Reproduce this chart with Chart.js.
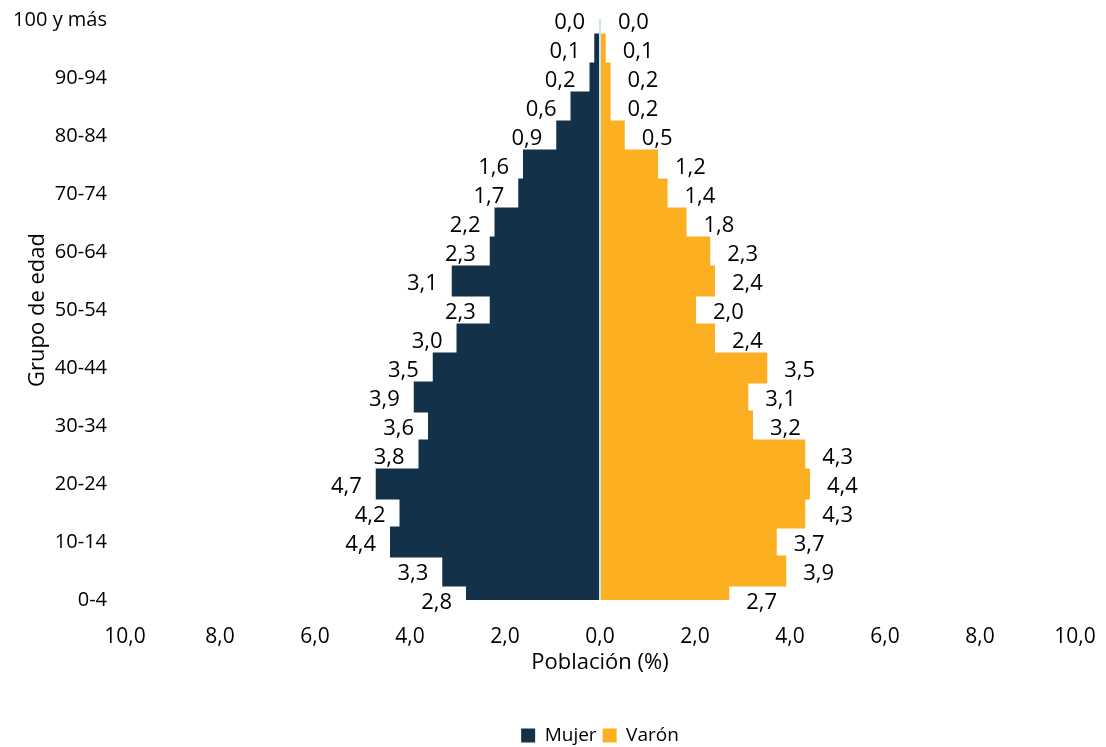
<!DOCTYPE html>
<html>
<head>
<meta charset="utf-8">
<script src="https://cdn.jsdelivr.net/npm/chart.js@4"></script>
<style>
  html, body { margin: 0; padding: 0; background: #fff; }
  #wrap { width: 1106px; height: 747px; }
</style>
</head>
<body>
<div id="wrap"><canvas id="pyramid"></canvas></div>
<script>
'use strict';

// age groups, bottom to top
const ageGroups = ['0-4', '5-9', '10-14', '15-19', '20-24', '25-29', '30-34', '35-39',
    '40-44', '45-49', '50-54', '55-59', '60-64', '65-69', '70-74', '75-79',
    '80-84', '85-89', '90-94', '95-99', '100 y más'];

const mujer = [2.8, 3.3, 4.4, 4.2, 4.7, 3.8, 3.6, 3.9, 3.5, 3.0, 2.3, 3.1, 2.3,
    2.2, 1.7, 1.6, 0.9, 0.6, 0.2, 0.1, 0.0];
const varon = [2.7, 3.9, 3.7, 4.3, 4.4, 4.3, 3.2, 3.1, 3.5, 2.4, 2.0, 2.4, 2.3,
    1.8, 1.4, 1.2, 0.5, 0.2, 0.2, 0.1, 0.0];

const xTicks = [-10, -8, -6, -4, -2, 0, 2, 4, 6, 8, 10];

const FONT = "'Open Sans', sans-serif";
const fmt = v => Math.abs(v).toFixed(1).replace('.', ',');

// no extra room for overhanging tick labels, layout padding does it
function noPadding(scale) {
    scale.paddingTop = 0;
    scale.paddingBottom = 0;
    scale.paddingLeft = 0;
    scale.paddingRight = 0;
}

// value labels beside each bar + light line at zero
const barLabels = {
    id: 'barLabels',
    afterDatasetsDraw(chart) {
        const ctx = chart.ctx;
        const area = chart.chartArea;
        const x0 = chart.scales.x.getPixelForValue(0);
        ctx.save();
        ctx.strokeStyle = '#cfe2f0';
        ctx.lineWidth = 2;
        ctx.beginPath();
        ctx.moveTo(x0, area.top - 1);
        ctx.lineTo(x0, area.bottom);
        ctx.stroke();

        ctx.font = '22px ' + FONT;
        ctx.fillStyle = '#000';
        ctx.textBaseline = 'middle';
        chart.data.datasets.forEach((ds, i) => {
            const meta = chart.getDatasetMeta(i);
            meta.data.forEach((bar, j) => {
                const v = ds.data[j];
                // first dataset (Mujer) goes to the left
                if (i === 0) {
                    ctx.textAlign = 'right';
                    ctx.fillText(fmt(v), bar.x - 15, bar.y + 3);
                } else {
                    ctx.textAlign = 'left';
                    ctx.fillText(fmt(v), bar.x + 18, bar.y + 3);
                }
            });
        });
        ctx.restore();
    }
};

const pyramidData = {
    labels: ageGroups,
    datasets: [
        {
            label: 'Mujer',
            data: mujer.map(v => -v),
            backgroundColor: '#133249',
        },
        {
            label: 'Varón',
            data: varon,
            backgroundColor: '#fcaf21',
        }
    ]
};

const pyramidConfig = {
    type: 'bar',
    data: pyramidData,
    plugins: [barLabels],
    options: {
        indexAxis: 'y',
        maintainAspectRatio: false,
        animation: false,
        barPercentage: 1,
        categoryPercentage: 1,
        inflateAmount: 1,
        layout: {
            padding: { top: 20, right: 31, left: 0, bottom: -8 }
        },
        scales: {
            x: {
                stacked: true,
                min: -10,
                max: 10,
                afterBuildTicks: scale => {
                    scale.ticks = xTicks.map(v => ({ value: v }));
                },
                afterFit: scale => {
                    noPadding(scale);
                    scale.height = 120;
                },
                border: { display: false },
                grid: {
                    display: false,
                    drawTicks: false
                },
                ticks: {
                    padding: 24,
                    color: '#000',
                    font: { family: FONT, size: 21 },
                    callback: value => fmt(value)
                },
                title: {
                    display: true,
                    text: 'Población (%)',
                    color: '#000',
                    font: { family: FONT, size: 22 },
                    padding: { top: 4, bottom: 44 }
                }
            },
            y: {
                stacked: true,
                reverse: true,
                offset: false,
                afterFit: scale => {
                    noPadding(scale);
                    scale.width = 125;
                },
                border: { display: false },
                grid: {
                    display: false,
                    drawTicks: false
                },
                ticks: {
                    autoSkip: false,
                    padding: 18,
                    color: '#000',
                    font: { family: FONT, size: 20 },
                    callback: (value, index) => index % 2 === 0 ? ageGroups[index] : ''
                },
                title: {
                    display: true,
                    text: 'Grupo de edad',
                    color: '#000',
                    font: { family: FONT, size: 22 },
                    padding: { top: 25, bottom: 0 }
                }
            }
        },
        plugins: {
            legend: {
                position: 'bottom',
                fullSize: false,
                labels: {
                    boxWidth: 14,
                    boxHeight: 14,
                    padding: 6,
                    color: '#000',
                    font: { family: FONT, size: 19 }
                }
            },
            tooltip: {
                enabled: false
            }
        }
    }
};

const pyramidChart = new Chart(document.querySelector('#pyramid'), pyramidConfig);
</script>
</body>
</html>
